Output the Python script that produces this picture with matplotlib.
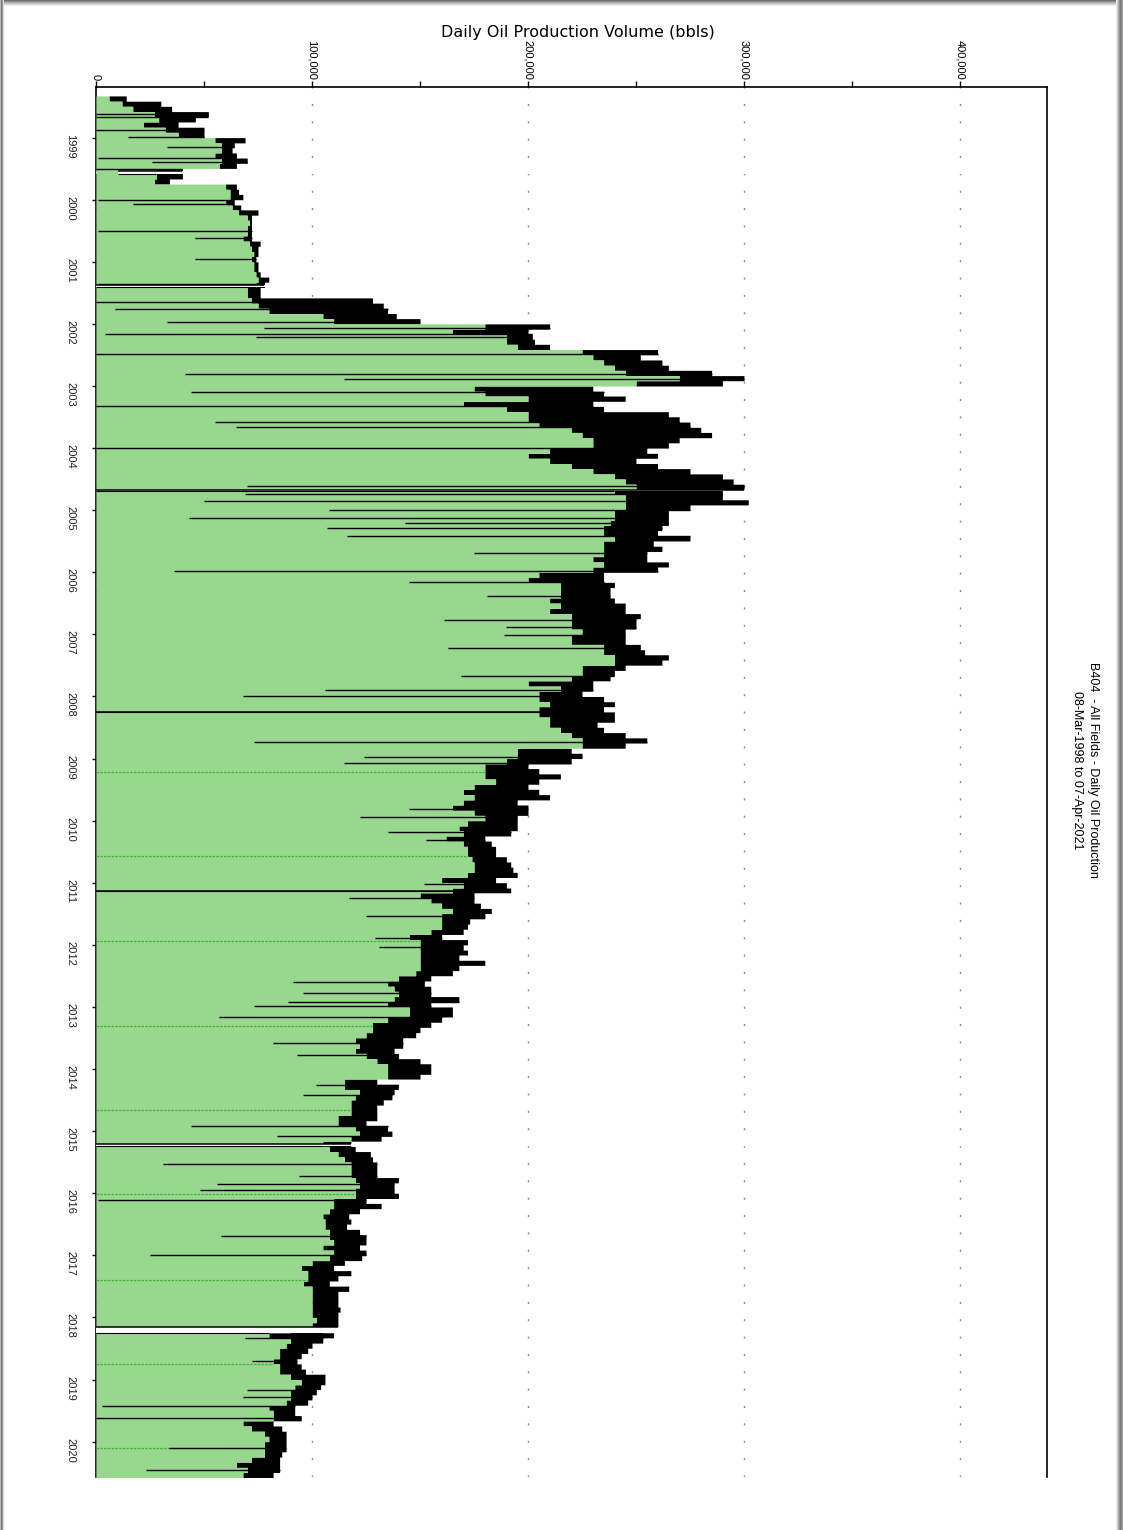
import numpy as np
import pandas as pd
import matplotlib
matplotlib.use("Agg")
import matplotlib.pyplot as plt
from matplotlib.patches import Rectangle

# ---------------- data (thousand bbls/day, monthly) ----------------
months = pd.date_range("1998-05-01", "2020-07-01", freq="MS")
# typical (lower) level of daily production in each month
low_k = [6, 12, 17, 27, 29, 22, 32, 38,
         55, 58, 58, 55, 58, 57, 28, 28, 27, 60, 62, 62,
         60, 63, 66, 70, 71, 70, 70, 68, 71, 72, 73, 72,
         73, 73, 74, 75, 74, 70, 70, 72, 75, 80, 105, 110,
         180, 165, 190, 190, 195, 225, 230, 235, 240, 245, 270, 250,
         175, 180, 200, 170, 190, 200, 200, 205, 220, 225, 230, 230,
         210, 200, 210, 220, 230, 240, 245, 250, 240, 245, 245, 245,
         240, 240, 238, 235, 235, 240, 235, 235, 235, 230, 235, 230,
         205, 200, 215, 215, 215, 210, 215, 210, 220, 220, 220, 225,
         220, 220, 235, 235, 240, 240, 225, 225, 220, 200, 215, 205,
         205, 210, 205, 205, 210, 210, 215, 220, 225, 225, 195, 195,
         190, 180, 180, 180, 185, 175, 170, 175, 170, 165, 175, 180,
         172, 168, 170, 162, 170, 172, 172, 174, 175, 175, 172, 160,
         170, 165, 150, 155, 160, 165, 160, 160, 160, 155, 145, 150,
         150, 150, 150, 150, 150, 148, 140, 135, 138, 140, 138, 135,
         145, 145, 135, 128, 128, 125, 120, 122, 120, 125, 130, 135,
         135, 135, 115, 115, 122, 120, 118, 118, 118, 112, 112, 120,
         122, 118, 105, 108, 112, 115, 118, 118, 118, 120, 122, 120,
         120, 110, 110, 108, 105, 106, 106, 108, 108, 110, 105, 110,
         108, 100, 95, 98, 98, 96, 100, 100, 100, 100, 100, 100,
         102, 100, 90, 80, 90, 88, 85, 85, 82, 85, 85, 90,
         95, 92, 90, 90, 88, 80, 82, 82, 68, 72, 78, 80,
         78, 78, 78, 72, 65, 70, 68]
# highest daily readings in each month
high_k = [14, 30, 35, 52, 46, 38, 50, 50,
          69, 64, 63, 65, 70, 65, 40, 40, 34, 65, 66, 68,
          64, 67, 75, 72, 72, 72, 72, 72, 76, 75, 75, 74,
          75, 75, 76, 80, 78, 76, 76, 128, 133, 135, 139, 150,
          210, 200, 202, 203, 210, 260, 252, 262, 265, 285, 300, 290,
          230, 235, 245, 230, 235, 265, 270, 275, 280, 285, 270, 265,
          255, 260, 250, 260, 275, 290, 295, 300, 290, 290, 302, 275,
          265, 265, 265, 262, 260, 275, 258, 262, 255, 255, 265, 260,
          235, 235, 240, 238, 238, 240, 245, 245, 252, 250, 250, 245,
          245, 245, 252, 254, 265, 262, 245, 240, 238, 230, 230, 225,
          235, 240, 235, 240, 240, 232, 235, 245, 255, 245, 220, 225,
          220, 200, 205, 215, 205, 200, 205, 210, 195, 200, 200, 195,
          195, 195, 192, 180, 183, 185, 185, 190, 192, 193, 195, 185,
          190, 192, 175, 175, 178, 183, 180, 173, 172, 170, 160, 172,
          170, 172, 168, 180, 168, 165, 155, 152, 155, 155, 168, 155,
          165, 165, 160, 155, 150, 148, 142, 142, 138, 140, 150, 155,
          155, 150, 130, 140, 138, 137, 133, 130, 130, 130, 125, 135,
          137, 132, 118, 120, 127, 128, 130, 130, 130, 140, 138, 138,
          140, 125, 132, 122, 117, 118, 116, 122, 125, 125, 122, 125,
          123, 115, 110, 118, 112, 108, 117, 112, 112, 112, 113, 112,
          112, 112, 105, 110, 105, 100, 98, 95, 93, 95, 97, 106,
          106, 104, 102, 100, 98, 92, 92, 95, 82, 86, 88, 88,
          88, 88, 86, 85, 85, 85, 82]
# single-day drops (decimal year, thousand bbls/day)
dip_years = [1998.618, 1998.661, 1998.876, 1998.994, 1999.155, 1999.321, 1999.40, 1999.504,
             2000.0, 2000.07, 2000.502, 2000.62, 2000.953, 2001.356,
             2001.64, 2001.758, 2001.962, 2002.07, 2002.166, 2002.215, 2002.483, 2002.805,
             2002.89, 2003.10, 2003.315, 2003.573, 2003.653, 2004.002, 2004.61,
             2004.738, 2004.845, 2004.996, 2005.119, 2005.21, 2005.29, 2005.414, 2005.693,
             2005.973, 2006.15, 2006.39, 2006.767, 2006.874, 2007.003, 2007.223, 2007.663,
             2007.893, 2007.999, 2008.736, 2008.967, 2009.074, 2009.815, 2009.949, 2010.18,
             2010.314, 2011.02, 2011.25, 2011.54, 2011.893, 2012.038, 2012.601, 2012.778,
             2012.913, 2012.977, 2013.165, 2013.578, 2013.772, 2014.255, 2014.415, 2014.925,
             2015.086, 2015.526, 2015.73, 2015.854, 2015.945, 2016.117, 2016.696, 2016.99,
             2018.33, 2018.70, 2019.171, 2019.284, 2019.43, 2019.622, 2020.105, 2020.465]
dip_values = [0, 0, 0, 15, 33, 1, 26, 0,
              1, 17, 1, 46, 46, 1,
              0, 9, 33, 78, 4, 74, 0, 41,
              115, 44, 0, 55, 65, 0, 70,
              69, 50, 108, 43, 143, 107, 116, 175,
              36, 145, 181, 161, 190, 189, 163, 169,
              106, 68, 73, 124, 115, 145, 122, 135,
              153, 152, 117, 125, 129, 131, 91, 96,
              89, 73, 57, 82, 93, 102, 96, 44,
              84, 31, 94, 56, 48, 1, 58, 25,
              69, 72, 70, 68, 3, 0, 34, 23]
# reduced-rate / shut-in periods (start, end in decimal years, thousand bbls/day)
low_start = [1999.536, 2001.370, 2004.675, 2008.245, 2011.128, 2015.213, 2018.160]
low_end = [1999.590, 2001.400, 2004.695, 2008.258, 2011.138, 2015.235, 2018.245]
low_level = [10, 0, 0, 0, 0, 0, 0]
# darker green marker lines seen in the fill
marker_years = [2009.219, 2010.577, 2011.946, 2013.299, 2014.667, 2016.02,
                2017.394, 2018.747, 2020.105]

year_ticks = list(range(1999, 2021))
vol_ticks = [0, 100000, 200000, 300000, 400000]
vol_labels = ["0", "100,000", "200,000", "300,000", "400,000"]

# ---------------- helpers ----------------
def dec_year(ts):
    ts = pd.DatetimeIndex(ts)
    start = pd.to_datetime(ts.year.astype(str) + "-01-01")
    ndays = np.where(ts.is_leap_year, 366.0, 365.0)
    return np.asarray(ts.year + (ts - start).days / ndays, dtype=float)

assert len(low_k) == len(months) == len(high_k)
assert len(dip_years) == len(dip_values)

t_start = dec_year(months)
t_end = dec_year(pd.DatetimeIndex(["2020-08-01"]))[0]
t = np.append(t_start, t_end)
lo = np.append(np.array(low_k, float), low_k[-1]) * 1000
hi = np.append(np.array(high_k, float), high_k[-1]) * 1000

def level_at(arr, yr):
    i = int(np.clip(np.searchsorted(t, yr, side="right") - 1, 0, len(arr) - 1))
    return arr[i]

# ---------------- figure ----------------
W, H = 1123, 1530
fig = plt.figure(figsize=(W / 100, H / 100), dpi=100)
ax = fig.add_axes([96 / W, 1 - 1477 / H, (1047 - 96) / W, (1477 - 87) / H])

narrow = ["Liberation Sans Narrow", "Liberation Sans", "DejaVu Sans"]
green = "#98d88e"

ax.fill_betweenx(t, lo, hi, step="post", color="black", lw=0, zorder=2)
ax.fill_betweenx(t, 0, lo, step="post", color=green, lw=0, zorder=3)

for yr in marker_years:
    ax.hlines(yr, 0, level_at(lo, yr), color="#3fae3a", lw=0.9,
              linestyles=(0, (2, 1)), zorder=4)

for s, e, v in zip(low_start, low_end, low_level):
    ax.fill_betweenx([s, e], v * 1000, 440000, color="white", lw=0, zorder=5)
    if v > 0:
        ax.fill_betweenx([s, e], 0, v * 1000, color=green, lw=0, zorder=5)
    ax.hlines(s, v * 1000, level_at(hi, s - 0.01), color="black", lw=1.1, zorder=6)
    ax.hlines(e, v * 1000, level_at(lo, e + 0.01), color="black", lw=0.8, zorder=6)

for yr, v in zip(dip_years, dip_values):
    ax.hlines(yr, v * 1000, level_at(hi, yr), color="black", lw=1.0, zorder=6)

ax.set_xlim(0, 440300)
ax.set_ylim(2020.57, 1998.185)

ax.xaxis.tick_top()
ax.set_xticks(vol_ticks)
ax.set_xticklabels(vol_labels, rotation=270, family=narrow, fontsize=8)
ax.set_xticks(np.arange(50000, 450000, 100000), minor=True)
ax.tick_params(axis="x", which="both", direction="out", length=4, width=1,
               pad=1, top=True, bottom=False, colors="black")
ax.set_yticks(year_ticks)
ax.set_yticklabels([str(y) for y in year_ticks], rotation=270, family=narrow,
                   fontsize=8, color="#222222")
ax.tick_params(axis="y", which="both", direction="out", length=3, width=1,
               pad=12, left=True, right=False)
ax.yaxis.set_minor_locator(matplotlib.ticker.NullLocator())

ax.grid(axis="x", which="major", color="#8a8a8a", lw=1.0, linestyle=(0, (1.5, 11)))
ax.set_axisbelow(True)

for side in ["top", "left", "right"]:
    ax.spines[side].set_linewidth(1.2)
    ax.spines[side].set_color("black")
ax.spines["bottom"].set_visible(False)

fig.text(578 / W, 1 - 32 / H, "Daily Oil Production Volume (bbls)",
         ha="center", va="center", fontsize=11.5, family=["DejaVu Sans"])
fig.text(1085 / W, 1 - 770 / H,
         "B404  - All Fields - Daily Oil Production\n08-Mar-1998 to 07-Apr-2021",
         ha="center", va="center", rotation=270, multialignment="center",
         fontsize=9, family=narrow, linespacing=1.55)

# page shadow frame
for i, c in enumerate(["#6e6e6e", "#8c8c8c", "#a8a8a8", "#c2c2c2", "#d9d9d9", "#ececec"]):
    fig.patches.append(Rectangle((0, 1 - (i + 1) / H), 1, 1 / H, transform=fig.transFigure,
                                 color=c, lw=0, zorder=0))
for i, c in enumerate(["#ececec", "#d0d0d0", "#b0b0b0", "#909090", "#7a7a7a", "#888888", "#a0a0a0"]):
    fig.patches.append(Rectangle((1 - (7 - i) / W, 0), 1 / W, 1, transform=fig.transFigure,
                                 color=c, lw=0, zorder=0))
for i, c in enumerate(["#b8b8b8", "#7c7c7c", "#9a9a9a", "#d8d8d8"]):
    fig.patches.append(Rectangle((i / W, 0), 1 / W, 1, transform=fig.transFigure,
                                 color=c, lw=0, zorder=0))

fig.savefig("out.png", dpi=100, facecolor="white")
